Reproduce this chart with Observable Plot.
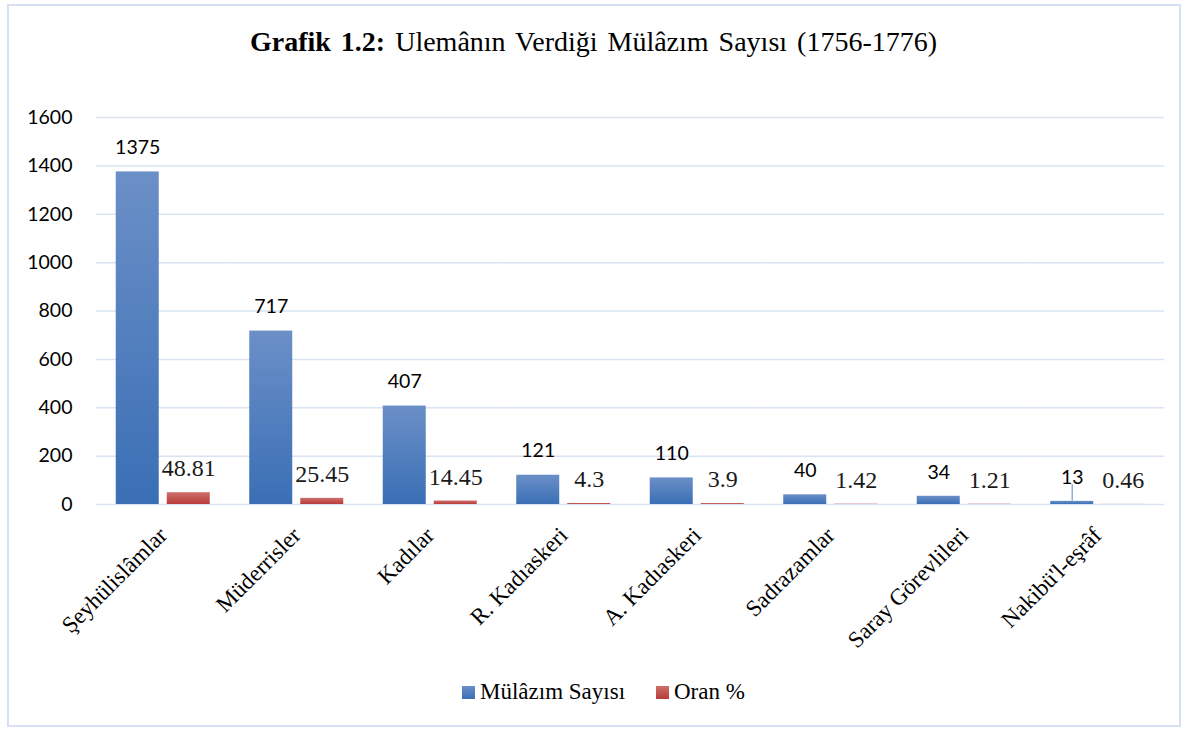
<!DOCTYPE html>
<html>
<head>
<meta charset="utf-8">
<script src="https://cdn.jsdelivr.net/npm/d3@7"></script>
<script src="https://cdn.jsdelivr.net/npm/@observablehq/plot@0.6"></script>
<style>
  html, body { margin: 0; padding: 0; background: #fff; width: 1187px; height: 731px; overflow: hidden; }
  #frame { position: absolute; left: 7px; top: 4px; width: 1174px; height: 723px; border: 2px solid #d6e2f3; box-sizing: border-box; }
  .serif { font-family: "Liberation Serif", "Times New Roman", Times, "DejaVu Serif", serif; }
  #title { position: absolute; left: 0; width: 1187px; top: 26px; text-align: center; font-size: 28px; color: #000; word-spacing: 3px; white-space: nowrap; }
  #chart { position: absolute; left: 0; top: 100px; }
  #legend { position: absolute; top: 679px; left: 0; width: 1187px; font-size: 23px; color: #000; }
  .item { position: absolute; top: 0; display: flex; align-items: center; white-space: nowrap; }
  .sw { width: 13px; height: 13px; margin-right: 5px; }
</style>
</head>
<body>
<div id="frame"></div>
<div id="title" class="serif"><b>Grafik 1.2:</b> Ulemânın Verdiği Mülâzım Sayısı (1756-1776)</div>
<div id="chart"></div>
<div id="legend" class="serif">
  <div class="item" style="left:462px"><div class="sw" style="background:linear-gradient(#6b8fc7,#3a6fb5)"></div><span id="l0"></span></div>
  <div class="item" style="left:656px"><div class="sw" style="background:linear-gradient(#cd6f6b,#b93c39)"></div><span id="l1"></span></div>
</div>
<script>
const categories = ["Şeyhülislâmlar", "Müderrisler", "Kadılar", "R. Kadıaskeri", "A. Kadıaskeri", "Sadrazamlar", "Saray Görevlileri", "Nakibü'l-eşrâf"];
const seriesNames = ["Mülâzım Sayısı", "Oran %"];
const mulazim = [1375, 717, 407, 121, 110, 40, 34, 13];
const oran = [48.81, 25.45, 14.45, 4.3, 3.9, 1.42, 1.21, 0.46];
const yTicks = [0, 200, 400, 600, 800, 1000, 1200, 1400, 1600];

const SERIF = "Liberation Serif, Times New Roman, Times, DejaVu Serif, serif";

document.getElementById("l0").textContent = seriesNames[0];
document.getElementById("l1").textContent = seriesNames[1];

const blueRows = categories.map((c, i) => ({cat: c, series: seriesNames[0], value: mulazim[i]}));
const redRows = categories.map((c, i) => ({cat: c, series: seriesNames[1], value: oran[i]}));

const defs = () => {
  const d = d3.create("svg:defs");
  const g1 = d.append("linearGradient").attr("id", "gBlue").attr("x1", 0).attr("y1", 0).attr("x2", 0).attr("y2", 1);
  g1.append("stop").attr("offset", "0%").attr("stop-color", "#6b8fc7");
  g1.append("stop").attr("offset", "100%").attr("stop-color", "#3a6fb5");
  const g2 = d.append("linearGradient").attr("id", "gRed").attr("x1", 0).attr("y1", 0).attr("x2", 0).attr("y2", 1);
  g2.append("stop").attr("offset", "0%").attr("stop-color", "#cd6f6b");
  g2.append("stop").attr("offset", "100%").attr("stop-color", "#b93c39");
  return d.node();
};

const chart = Plot.plot({
  width: 1187,
  height: 560,
  marginLeft: 96,
  marginRight: 23,
  marginTop: 17,
  marginBottom: 156,
  fx: {domain: categories, padding: 0, round: false, label: null},
  x: {domain: seriesNames, paddingInner: 0.157, paddingOuter: 0.387, round: false, axis: null},
  y: {domain: [0, 1600], label: null},
  marks: [
    defs,
    Plot.gridY(yTicks, {stroke: "#d9e3f3", strokeOpacity: 1, strokeWidth: 1.5}),
    Plot.axisY(yTicks, {tickSize: 0, tickPadding: 24, tickFormat: d => String(d), fontSize: 19.5, fontFamily: "Lato", fill: "#000", label: null}),
    Plot.axisFx({anchor: "bottom", tickSize: 0, tickPadding: 27, tickRotate: -45, fontSize: 23, fontFamily: SERIF, fill: "#000", label: null}),
    Plot.barY(blueRows, {fx: "cat", x: "series", y: "value", fill: "url(#gBlue)"}),
    Plot.barY(redRows, {fx: "cat", x: "series", y: "value", fill: "url(#gRed)"}),
    Plot.ruleX(blueRows.filter(d => d.value === 13), {fx: "cat", x: "series", y1: "value", y2: 82, stroke: "#8fb0db", strokeWidth: 1.5}),
    Plot.text(blueRows, {fx: "cat", x: "series", y: "value", text: d => String(d.value), dy: -24, fontSize: 19.5, fontFamily: "Lato", fill: "#000"}),
    Plot.text(redRows, {fx: "cat", x: "series", y: "value", text: d => String(d.value), dy: -24, fontSize: 24, fontFamily: SERIF, fill: "#1a1a1a"})
  ]
});
document.getElementById("chart").appendChild(chart);
</script>
</body>
</html>
